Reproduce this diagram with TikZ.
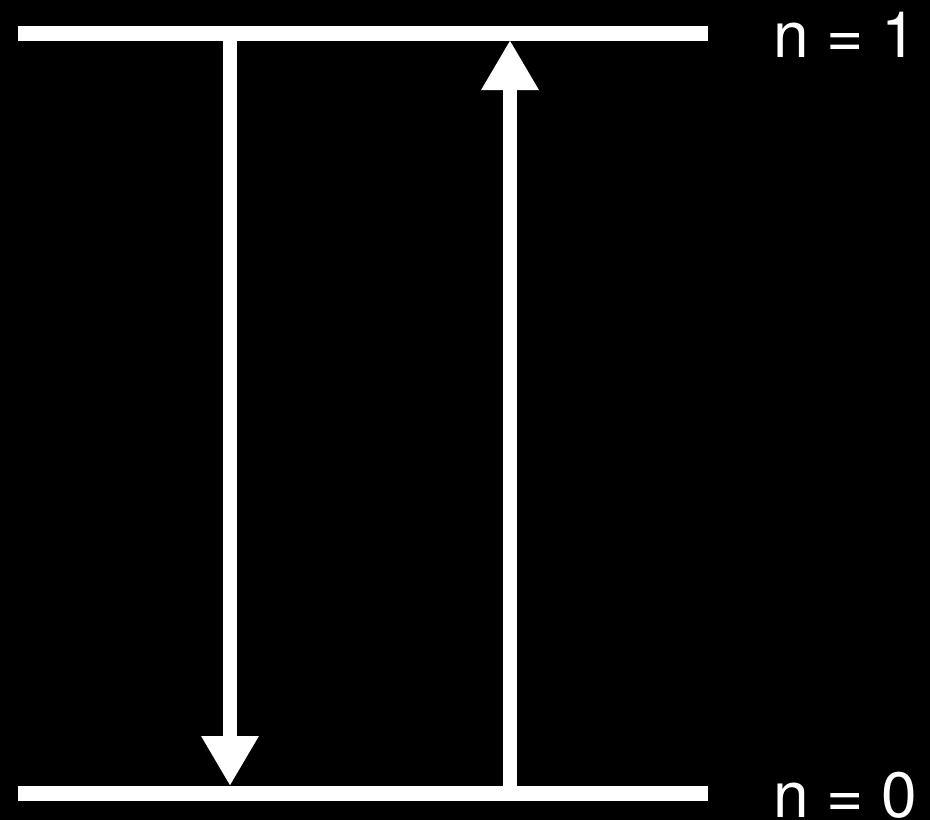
\documentclass[tikz,border=0pt]{standalone}
\usepackage{fontspec}
\setmainfont{TeX Gyre Heros}
\usetikzlibrary{arrows.meta}

\begin{document}
\begin{tikzpicture}[x=1pt, y=-1pt,
    level/.style={white, line width=15pt},
    trans/.style={white, line width=14pt, -{Triangle[length=50pt, width=54pt]}},
    levellabel/.style={white, anchor=base west, inner sep=0pt, font=\fontsize{64}{64}\selectfont}]
      \fill[black] (0,0) rectangle (930,820);
      \useasboundingbox (0,0) rectangle (930,820);
      \coordinate (l1w) at (18,33);
      \coordinate (l1e) at (708,33);
      \coordinate (l0w) at (18,793);
      \coordinate (l0e) at (708,793);
      \coordinate (emtop) at (230,33);
      \coordinate (embot) at (230,786);
      \coordinate (abbot) at (510,793);
      \coordinate (abtop) at (510,40);
      \draw[level] (l1w) -- (l1e);
      \draw[level] (l0w) -- (l0e);
      \draw[trans] (emtop) -- (embot);
      \draw[trans] (abbot) -- (abtop);
      \node[levellabel] (n1) at (773,57) {n = 1};
      \node[levellabel] (n0) at (773,817) {n = 0};
    \end{tikzpicture}
\end{document}
